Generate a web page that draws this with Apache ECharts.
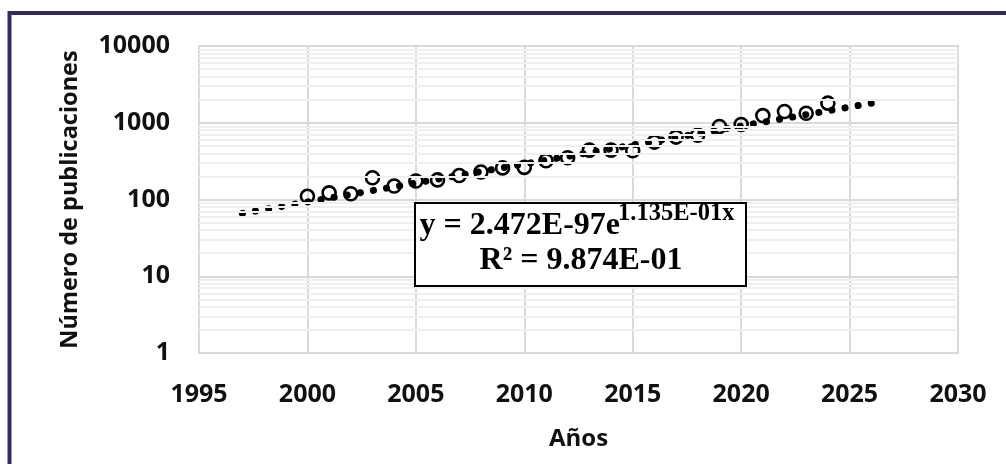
<!DOCTYPE html>
<html>
<head>
<meta charset="utf-8">
<script src="https://cdn.jsdelivr.net/npm/echarts@6/dist/echarts.min.js"></script>
<style>
html,body{margin:0;padding:0;background:#fff;}
#c{width:1006px;height:464px;}
</style>
</head>
<body>
<div id="c"></div>
<script>
// ---- data ----
const years = [2000,2001,2002,2003,2004,2005,2006,2007,2008,2009,2010,2011,2012,2013,2014,2015,2016,2017,2018,2019,2020,2021,2022,2023,2024];
const publications = [110,122,119,192,150,174,180,205,228,258,262,320,350,440,440,432,560,650,690,895,950,1240,1400,1330,1800];
const trendYears = [1997, 2026.5];
const trendValues = [66, 1900];
const xAxisTitle = 'Años';
const yAxisTitle = 'Número de publicaciones';
const eqMain = 'y = 2.472E-97e';
const eqSup = '1.135E-01x';
const eqR2 = 'R² = 9.874E-01';

// minor log gridlines (2..9 in each decade)
const minorLines = [];
[1,10,100,1000].forEach(d => { for (let k = 2; k <= 9; k++) minorLines.push(d * k); });

const chart = echarts.init(document.getElementById('c'), null, {renderer:'canvas'});
const labelFont = {fontFamily:'"Open Sans"', fontWeight:'bold', fontSize:25, color:'#111'};
chart.setOption({
  animation:false,
  backgroundColor:'#fff',
  grid:{left:199, right:48, top:46, bottom:111, show:true, borderColor:'#d9d9d9', borderWidth:2, backgroundColor:'#fff'},
  xAxis:{
    type:'value', min:1995, max:2030, interval:5,
    name:xAxisTitle, nameLocation:'middle', nameGap:74,
    nameTextStyle:{fontFamily:'"Open Sans"', fontWeight:'bold', fontSize:24, color:'#111'},
    axisLine:{show:false}, axisTick:{show:false},
    axisLabel:Object.assign({margin:29, formatter:v => String(v)}, labelFont),
    splitLine:{show:true, lineStyle:{color:'#d9d9d9', width:2}}
  },
  yAxis:{
    type:'log', logBase:10, min:1, max:10000,
    name:yAxisTitle, nameLocation:'middle', nameGap:117, nameRotate:90,
    nameTextStyle:{fontFamily:'"Open Sans"', fontWeight:'bold', fontSize:23.5, color:'#111', padding:[0,0,0,0]},
    axisLabel:Object.assign({margin:29, formatter:v => String(Math.round(v))}, labelFont),
    axisLine:{show:false}, axisTick:{show:false},
    splitLine:{show:true, lineStyle:{color:'#d9d9d9', width:2}}
  },
  series:[
    {
      type:'scatter', data:[], z:1, silent:true,
      markLine:{
        silent:true, symbol:'none', animation:false,
        label:{show:false},
        lineStyle:{color:'#efefef', width:2, type:'solid'},
        data:minorLines.map(v => ({yAxis:v}))
      }
    },
    {
      type:'scatter', z:3,
      data:years.map((y,i) => [y, publications[i]]),
      symbol:'circle', symbolSize:13,
      itemStyle:{color:'rgba(0,0,0,0)', borderColor:'#000', borderWidth:2.6, opacity:1}
    },
    {
      type:'line', z:4,
      data:trendYears.map((y,i) => [y, trendValues[i]]),
      showSymbol:false, symbol:'none',
      lineStyle:{color:'#000', width:7, type:[0.1, 13.2], cap:'round'}
    }
  ],
  graphic:[
    {type:'rect', z:100, shape:{x:9.5, y:13, width:1010, height:470}, style:{fill:'none', stroke:'#2f2c5e', lineWidth:4}},
    {type:'rect', z:100, shape:{x:415, y:203, width:331, height:83}, style:{fill:'#fff', stroke:'#000', lineWidth:2}},
    {type:'text', z:101, x:620, y:226, style:{text:eqMain, font:'bold 32px "Liberation Serif"', fill:'#000', align:'right', verticalAlign:'middle'}},
    {type:'text', z:101, x:618, y:214, style:{text:eqSup, font:'bold 24.5px "Liberation Serif"', fill:'#000', align:'left', verticalAlign:'middle'}},
    {type:'text', z:101, x:581, y:261, style:{text:eqR2, font:'bold 32px "Liberation Serif"', fill:'#000', align:'center', verticalAlign:'middle'}}
  ]
});
</script>
</body>
</html>
